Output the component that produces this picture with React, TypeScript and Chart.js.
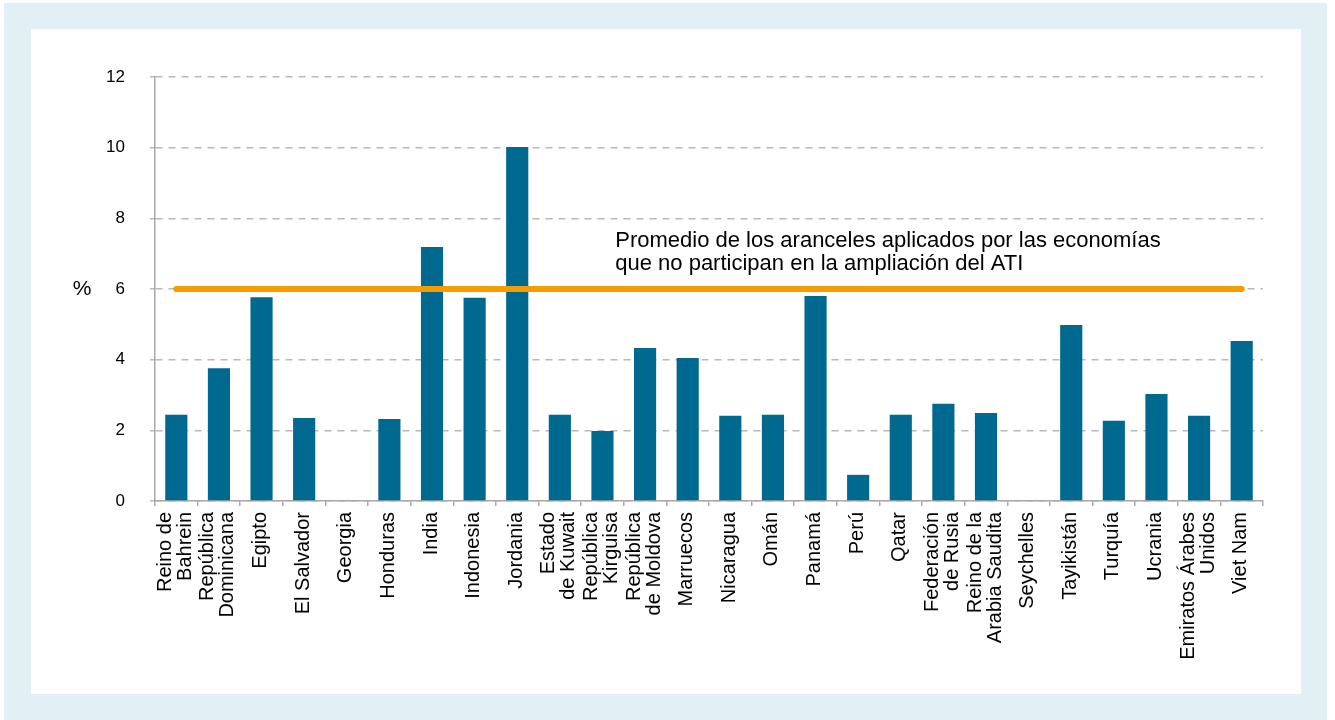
import React, { useEffect, useRef } from "react";
import { Chart, registerables } from "chart.js";

Chart.register(...registerables);

const categories: string[][] = [
  ["Reino de", "Bahrein"],
  ["República", "Dominicana"],
  ["Egipto"],
  ["El Salvador"],
  ["Georgia"],
  ["Honduras"],
  ["India"],
  ["Indonesia"],
  ["Jordania"],
  ["Estado", "de Kuwait"],
  ["República", "Kirguisa"],
  ["República", "de Moldova"],
  ["Marruecos"],
  ["Nicaragua"],
  ["Omán"],
  ["Panamá"],
  ["Perú"],
  ["Qatar"],
  ["Federación", "de Rusia"],
  ["Reino de la", "Arabia Saudita"],
  ["Seychelles"],
  ["Tayikistán"],
  ["Turquía"],
  ["Ucrania"],
  ["Emiratos Árabes", "Unidos"],
  ["Viet Nam"],
];

const tariffValues = [
  2.44, 3.76, 5.77, 2.35, 0, 2.32, 7.19, 5.75, 10.02, 2.44, 1.98, 4.33, 4.05,
  2.41, 2.44, 5.8, 0.74, 2.44, 2.75, 2.49, 0, 4.98, 2.27, 3.03, 2.41, 4.53,
];

const averageValues = [
  6, 6, 6, 6, 6, 6, 6, 6, 6, 6, 6, 6, 6, 6, 6, 6, 6, 6, 6, 6, 6, 6, 6, 6, 6, 6,
];

const yMin = 0;
const yMax = 12;
const yStep = 2;

const annotationLines = [
  "Promedio de los aranceles aplicados por las economías",
  "que no participan en la ampliación del ATI",
];
const yUnitLabel = "%";

const FONT = "'Liberation Sans', Arial, Helvetica, sans-serif";

export default function App() {
  const canvasRef = useRef<HTMLCanvasElement>(null);

  useEffect(() => {
    if (!canvasRef.current) return;

    const textPlugin = {
      id: "extraTexts",
      afterDraw(chart: any) {
        const { ctx } = chart;
        const xs = chart.scales.x;
        const ys = chart.scales.y;
        const yAvg = ys.getPixelForValue(averageValues[0]);
        ctx.save();
        ctx.fillStyle = "#000000";

        // annotation
        ctx.font = `22px ${FONT}`;
        ctx.textAlign = "left";
        ctx.textBaseline = "alphabetic";
        const x0 = xs.getPixelForValue(10.3);
        ctx.fillText(annotationLines[0], x0, yAvg - 42);
        ctx.fillText(annotationLines[1], x0, yAvg - 19);

        // unit label
        ctx.font = `21px ${FONT}`;
        ctx.textAlign = "center";
        ctx.textBaseline = "middle";
        ctx.fillText(yUnitLabel, ys.right - 73, yAvg);

        // category labels, rotated
        const lineH = 20;
        ctx.font = `20px ${FONT}`;
        ctx.textAlign = "right";
        ctx.textBaseline = "middle";
        const topY = ys.bottom + 11;
        categories.forEach((lines, i) => {
          const cx = xs.getPixelForValue(i) - 1;
          const n = lines.length;
          lines.forEach((line, j) => {
            const lx = cx + (j - (n - 1) / 2) * lineH;
            ctx.save();
            ctx.translate(lx, topY);
            ctx.rotate(-Math.PI / 2);
            ctx.fillText(line, 0, 0);
            ctx.restore();
          });
        });
        ctx.restore();
      },
    };

    const chart = new Chart(canvasRef.current, {
      type: "bar",
      data: {
        labels: categories.map((c) => c.join(" ")),
        datasets: [
          {
            type: "line",
            label: "Promedio",
            data: averageValues,
            borderColor: "#f59c00",
            backgroundColor: "#f59c00",
            borderWidth: 6,
            borderCapStyle: "round",
            pointRadius: 0,
            pointHoverRadius: 0,
            tension: 0,
            fill: false,
            order: 0,
          } as any,
          {
            type: "bar",
            label: "Arancel",
            data: tariffValues,
            backgroundColor: "#006990",
            borderWidth: 0,
            categoryPercentage: 1,
            barPercentage: 0.52,
            order: 1,
          } as any,
        ],
      },
      options: {
        responsive: false,
        animation: false,
        devicePixelRatio: 1,
        layout: {
          padding: { left: 0, top: 77, right: 72, bottom: 0 },
        },
        plugins: {
          legend: { display: false },
          tooltip: { enabled: false },
          title: { display: false },
        },
        scales: {
          x: {
            offset: true,
            border: { display: true, color: "#a9a9a9", width: 1.5 },
            grid: {
              offset: true,
              drawOnChartArea: false,
              drawTicks: true,
              tickLength: 5,
              color: "#a9a9a9",
              lineWidth: 1.5,
            },
            ticks: {
              display: false,
              autoSkip: false,
            },
            afterFit: (scale: any) => {
              scale.height = 219;
            },
          },
          y: {
            min: yMin,
            max: yMax,
            border: {
              display: true,
              color: "#a9a9a9",
              width: 1.5,
              dash: [7, 6],
            },
            grid: {
              color: "#b8b8b8",
              lineWidth: 1.5,
              tickLength: 5,
              drawTicks: true,
              tickBorderDash: [7, 6],
            },
            ticks: {
              stepSize: yStep,
              padding: 25,
              color: "#000000",
              font: { family: FONT, size: 17 },
            },
            afterFit: (scale: any) => {
              scale.width = 155;
            },
          },
        },
      },
      plugins: [textPlugin],
    });

    return () => {
      chart.destroy();
    };
  }, []);

  return (
    <div
      style={{
        position: "fixed",
        left: 0,
        top: 0,
        width: 1335,
        height: 720,
        background: "#ffffff",
        overflow: "hidden",
      }}
    >
      <div
        style={{
          position: "absolute",
          left: 4,
          top: 3,
          width: 1323,
          height: 717,
          background: "#e1f0f4",
        }}
      />
      <div
        style={{
          position: "absolute",
          left: 31,
          top: 29,
          width: 1270,
          height: 665,
          background: "#ffffff",
        }}
      />
      <canvas
        ref={canvasRef}
        width={1335}
        height={720}
        style={{ position: "absolute", left: 0, top: 0 }}
      />
    </div>
  );
}
